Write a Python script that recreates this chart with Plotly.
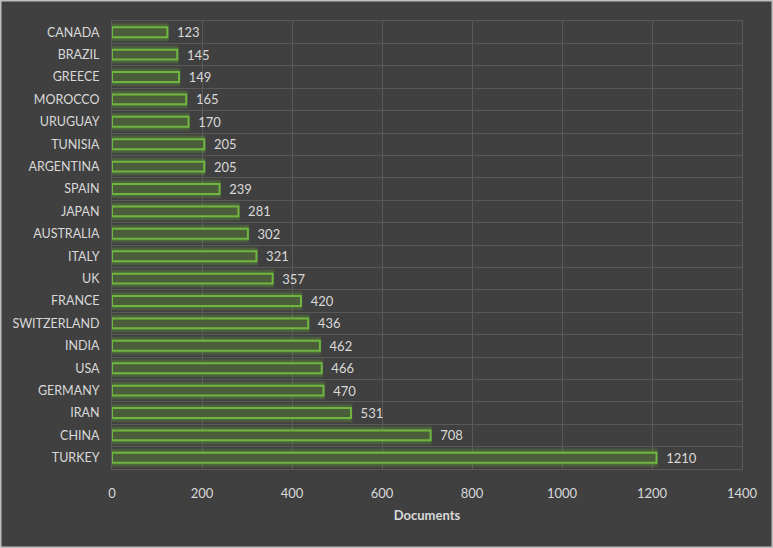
import plotly.graph_objects as go

countries = ["CANADA", "BRAZIL", "GREECE", "MOROCCO", "URUGUAY", "TUNISIA", "ARGENTINA",
             "SPAIN", "JAPAN", "AUSTRALIA", "ITALY", "UK", "FRANCE", "SWITZERLAND",
             "INDIA", "USA", "GERMANY", "IRAN", "CHINA", "TURKEY"]
documents = [123, 145, 149, 165, 170, 205, 205, 239, 281, 302, 321, 357, 420, 436,
             462, 466, 470, 531, 708, 1210]
x_ticks = [0, 200, 400, 600, 800, 1000, 1200, 1400]

FONT = "Lato"
TXT = "#d9d9d9"
GRID = "#595959"
BG = "#404040"

fig = go.Figure()
# soft glow behind bars (two layers)
for w, a in [(0.76, 0.10), (0.62, 0.16)]:
    fig.add_trace(go.Bar(
        y=countries, x=documents, orientation="h", width=w,
        marker=dict(color=f"rgba(105,170,60,{a})",
                    line=dict(color=f"rgba(105,170,60,{a})", width=3)),
        hoverinfo="skip", showlegend=False))
fig.add_trace(go.Bar(
    y=countries, x=documents, orientation="h", width=0.44,
    marker=dict(color="#4c5d3b", line=dict(color="#6fb640", width=2)),
    text=[str(v) for v in documents], texttemplate="  %{text}",
    textposition="outside", constraintext="none",
    textfont=dict(family=FONT, size=13, color=TXT), cliponaxis=False,
    showlegend=False))

W, H = 773, 548
ml, mr, mt, mb = 112, 31, 21, 79
pw, ph = W - ml - mr, H - mt - mb

fig.update_layout(
    width=W, height=H, barmode="overlay",
    margin=dict(l=ml, r=mr, t=mt, b=mb, autoexpand=False),
    paper_bgcolor=BG, plot_bgcolor=BG,
    font=dict(family=FONT, color=TXT),
    xaxis=dict(range=[0, 1400], tickvals=x_ticks, showgrid=True, gridcolor=GRID,
               gridwidth=1, zeroline=False, showline=True, mirror=True, linecolor=GRID,
               tickfont=dict(family=FONT, size=13, color=TXT), ticks="",
               ticklabelstandoff=12, automargin=False,
               title=dict(text="<b>Documents</b>", font=dict(family=FONT, size=13, color=TXT),
                          standoff=11)),
    yaxis=dict(type="category", autorange="reversed", tickson="boundaries",
               showgrid=True, gridcolor=GRID, gridwidth=1, showline=True, mirror=True,
               linecolor=GRID, ticks="", ticklabelstandoff=9, automargin=False,
               tickfont=dict(family=FONT, size=12.5, color=TXT)),
    shapes=[dict(type="rect", xref="paper", yref="paper",
                 x0=-ml / pw + 0.5 / pw, x1=1 + mr / pw - 0.5 / pw,
                 y0=-mb / ph + 0.5 / ph, y1=1 + mt / ph - 0.5 / ph,
                 line=dict(color="#bfbfbf", width=2), layer="above")],
)

fig.write_html("out.html", config={"displayModeBar": False},
               post_script="document.body.style.margin='0';")
